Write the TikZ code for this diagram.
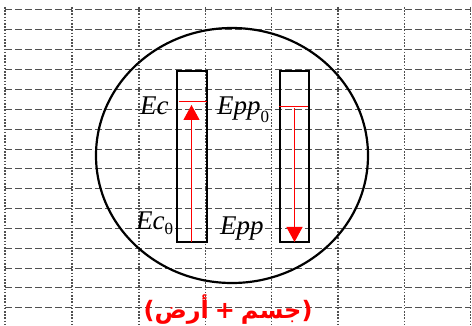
\documentclass[tikz,border=0pt]{standalone}
\usepackage{fontspec}
\setmainfont{Liberation Serif}
\newfontfamily\arabicfont[Script=Arabic]{DejaVu Sans}
\newfontfamily\parfont{DejaVu Sans}
\usetikzlibrary{arrows.meta,shapes.geometric}
\definecolor{gridgray}{HTML}{505050}
\tikzset{
  hgrid/.style={gridgray, line width=1.4pt, dash pattern=on 7pt off 3pt},
  vgrid/.style={gridgray, line width=1.5pt, dash pattern=on 1.6pt off 1.6pt},
  barbox/.style={draw=black, line width=2pt, inner sep=0pt},
  redline/.style={red, line width=1.1pt},
  redarrow/.style={red, line width=1.1pt, -{Triangle[width=16pt,length=15pt]}},
  lab/.style={font=\fontsize{27}{29}\selectfont, inner sep=0pt},
}
\newcommand{\subz}[1]{\raisebox{-#1}{\fontsize{17}{17}\selectfont 0}}
\begin{document}
\begin{tikzpicture}[x=1pt,y=-1pt]
\useasboundingbox (0,0) rectangle (472,326);
\fill[white] (0,0) rectangle (472,326);
% grid
\foreach \yy in {9.5,29.5,49.5,69.5,89.5,109.5,129.5,149.5,168.5,188.5,208.5,228.5,248.5,268.5,287.5,307.5} {
  \draw[hgrid] (5,\yy) -- (471,\yy);
}
\foreach \xx in {5,72,139,205.5,271.5,338,404.5,470.5} {
  \draw[vgrid] (\xx,7) -- (\xx,326);
}
% ellipse
\node[draw=black, line width=2.2pt, ellipse, minimum width=272pt, minimum height=255pt, inner sep=0pt] (sys) at (232,155.5) {};
% bars
\node[barbox, minimum width=30pt, minimum height=171pt] (barL) at (192,156.5) {};
\node[barbox, minimum width=29pt, minimum height=171pt] (barR) at (294,156.5) {};
% red levels
\coordinate (lA) at (179,101.5);
\coordinate (lB) at (207,101.5);
\draw[redline] (lA) -- (lB);
\coordinate (rA) at (279,106.5);
\coordinate (rB) at (308,106.5);
\draw[redline] (rA) -- (rB);
% arrows
\coordinate (aLs) at (191.5,242);
\coordinate (aLe) at (191.5,105);
\draw[redarrow] (aLs) -- (aLe);
\coordinate (aRs) at (294.5,108);
\coordinate (aRe) at (294.5,242);
\draw[redarrow] (aRs) -- (aRe);
% labels
\node[lab, anchor=base west] (ec) at (140,115) {\itshape Ec};
\node[lab, anchor=base west] (epp0) at (217,115) {{\itshape Epp}\subz{8pt}};
\node[lab, anchor=base west] (ec0) at (136,230) {{\itshape Ec}\subz{5pt}};
\node[lab, anchor=base west] (epp) at (220,235) {\itshape Epp};
\node[text=red, inner sep=0pt, font=\bfseries\fontsize{24}{27}\selectfont] (sysl) at (228,310) {{\parfont(}{\arabicfont أرض} {\parfont+} {\arabicfont جسم}{\parfont)}};
\end{tikzpicture}
\end{document}
